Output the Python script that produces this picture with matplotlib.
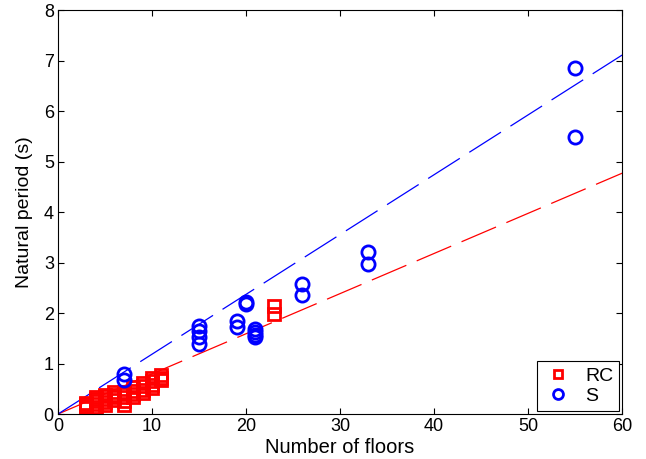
import matplotlib
matplotlib.use("Agg")
import matplotlib.pyplot as plt
import numpy as np

plt.rcParams['font.family'] = ['Liberation Sans', 'DejaVu Sans']

# RC buildings: number of floors and natural period (s)
rc_floors = [3, 3, 3, 3,
             4, 4, 4, 4, 4,
             5, 5, 5, 5, 5,
             6, 6, 6, 6,
             7, 7, 7, 7, 7,
             8, 8, 8, 8,
             9, 9, 9, 9,
             10, 10, 10, 10,
             11, 11, 11,
             23, 23]
rc_period = [0.12, 0.16, 0.20, 0.22,
             0.14, 0.20, 0.26, 0.30, 0.34,
             0.18, 0.24, 0.30, 0.35, 0.38,
             0.28, 0.33, 0.38, 0.44,
             0.18, 0.26, 0.34, 0.40, 0.44,
             0.34, 0.40, 0.46, 0.53,
             0.42, 0.48, 0.55, 0.61,
             0.51, 0.58, 0.65, 0.71,
             0.67, 0.72, 0.77,
             1.98, 2.13]

# Steel buildings
s_floors = [7, 7, 15, 15, 15, 15, 19, 19, 20, 20, 21, 21, 21, 21, 26, 26, 33, 33, 55, 55]
s_period = [0.80, 0.67, 1.75, 1.65, 1.52, 1.38, 1.84, 1.72, 2.22, 2.17, 1.69, 1.63, 1.57, 1.52, 2.57, 2.35, 3.20, 2.97, 6.85, 5.48]

# Fitted lines (period per floor)
fit_x = [0, 60]
rc_slope = 0.0795
s_slope = 0.1185

fig = plt.figure(figsize=(6.46, 4.59), dpi=100)
ax = fig.add_axes([0.0898, 0.098, 0.8733, 0.880])

ax.plot(fit_x, [rc_slope * v for v in fit_x], color='red', lw=0.9, dashes=(30, 9))
ax.plot(fit_x, [s_slope * v for v in fit_x], color='blue', lw=0.9, dashes=(30, 9))

ax.plot(rc_floors, rc_period, ls='none', marker='s', mfc='none', mec='red', mew=2.0, ms=8, label='RC')
ax.plot(s_floors, s_period, ls='none', marker='o', mfc='none', mec='blue', mew=2.0, ms=9.5, label='S')

ax.set_xlim(0, 60)
ax.set_ylim(0, 8)
ax.set_xticks(range(0, 61, 10))
ax.set_yticks(range(0, 9))
ax.tick_params(direction='in', length=4, labelsize=13, top=True, right=True, pad=3)
ax.set_xlabel('Number of floors', fontsize=14.5, labelpad=2)
ax.set_ylabel('Natural period (s)', fontsize=14, labelpad=8)

leg = ax.legend(loc='lower right', fontsize=14, fancybox=False, edgecolor='black',
                framealpha=1, borderaxespad=0.15, handlelength=1.6, markerscale=0.75,
                labelspacing=0.15, borderpad=0.3, handletextpad=0.6)
leg.get_frame().set_linewidth(0.8)

fig.savefig('out.png', dpi=100)
